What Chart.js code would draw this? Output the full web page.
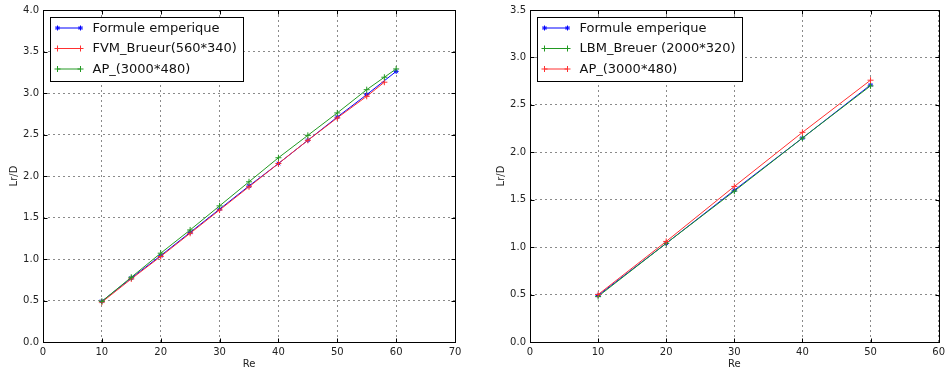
<!DOCTYPE html>
<html>
<head>
<meta charset="utf-8">
<script src="https://cdn.jsdelivr.net/npm/chart.js@4/dist/chart.umd.min.js"></script>
<style>
  html, body { margin: 0; padding: 0; background: #fff; }
  body { width: 949px; height: 372px; position: relative; overflow: hidden; }
  .wrap { position: absolute; top: 0; height: 372px; }
  #w1 { left: 0; width: 470px; }
  #w2 { left: 487px; width: 462px; }
</style>
</head>
<body>
<div class="wrap" id="w1"><canvas id="c1"></canvas></div>
<div class="wrap" id="w2"><canvas id="c2"></canvas></div>
<script>
// ---------- Data (left chart) ----------
const reFormuleLeft = [10, 15, 20, 25, 30, 35, 40, 45, 50, 55, 60];
const lrFormuleLeft = [0.49, 0.77, 1.04, 1.32, 1.60, 1.88, 2.15, 2.43, 2.71, 2.98, 3.26];
const reFVM = [10, 15, 20, 25, 30, 35, 40, 45, 50, 55, 58];
const lrFVM = [0.48, 0.76, 1.03, 1.31, 1.59, 1.87, 2.15, 2.43, 2.70, 2.96, 3.13];
const reAPLeft = [10, 15, 20, 25, 30, 35, 40, 45, 50, 55, 58, 60];
const lrAPLeft = [0.49, 0.78, 1.07, 1.35, 1.64, 1.93, 2.22, 2.49, 2.76, 3.04, 3.19, 3.29];

// ---------- Data (right chart) ----------
const reRight = [10, 20, 30, 40, 50];
const lrFormuleRight = [0.49, 1.04, 1.60, 2.15, 2.71];
const lrLBM = [0.48, 1.04, 1.59, 2.15, 2.70];
const lrAPRight = [0.50, 1.06, 1.64, 2.21, 2.76];

// ---------- Labels ----------
const labelsLeft = ['Formule emperique', 'FVM_Brueur(560*340)', 'AP_(3000*480)'];
const labelsRight = ['Formule emperique', 'LBM_Breuer (2000*320)', 'AP_(3000*480)'];
const xTitle = 'Re';
const yTitle = 'Lr/D';

const BLUE = '#0000ff', RED = '#ff3030', GREEN = '#229922';
const FONT = '"DejaVu Sans", "Liberation Sans", sans-serif';

function pts(xs, ys) { return xs.map((x, i) => ({ x: x, y: ys[i] })); }

function drawMarker(ctx, style, color, x, y, r) {
  ctx.save();
  ctx.strokeStyle = color; ctx.fillStyle = color; ctx.lineWidth = 1;
  ctx.beginPath();
  if (style === 'star') {
    for (let k = 0; k < 4; k++) {
      const a = k * Math.PI / 4;
      ctx.moveTo(x - r * Math.cos(a), y - r * Math.sin(a));
      ctx.lineTo(x + r * Math.cos(a), y + r * Math.sin(a));
    }
  } else {
    ctx.moveTo(x - r, y); ctx.lineTo(x + r, y);
    ctx.moveTo(x, y - r); ctx.lineTo(x, y + r);
  }
  ctx.stroke();
  ctx.restore();
}

const framePlugin = {
  id: 'frame',
  afterDatasetsDraw(chart) {
    const ctx = chart.ctx, a = chart.chartArea;
    ctx.save();
    ctx.strokeStyle = '#000'; ctx.lineWidth = 1;
    const L = Math.round(a.left) + 0.5, R = Math.round(a.right) + 0.5;
    const T = Math.round(a.top) + 0.5, B = Math.round(a.bottom) + 0.5;
    ctx.beginPath();
    const xs = chart.scales.x, ys = chart.scales.y;
    xs.ticks.forEach(t => {
      const px = Math.round(xs.getPixelForValue(t.value)) + 0.5;
      ctx.moveTo(px, B); ctx.lineTo(px, B - 4);
      ctx.moveTo(px, T); ctx.lineTo(px, T + 4);
    });
    ys.ticks.forEach(t => {
      const py = Math.round(ys.getPixelForValue(t.value)) + 0.5;
      ctx.moveTo(L, py); ctx.lineTo(L + 4, py);
      ctx.moveTo(R, py); ctx.lineTo(R - 4, py);
    });
    ctx.stroke();
    ctx.strokeRect(L, T, R - L, B - T);
    ctx.restore();
  }
};

const legendPlugin = {
  id: 'boxLegend',
  afterDraw(chart) {
    const ctx = chart.ctx, a = chart.chartArea;
    const ds = chart.data.datasets;
    ctx.save();
    ctx.font = '13px ' + FONT;
    let maxW = 0;
    ds.forEach(d => { maxW = Math.max(maxW, ctx.measureText(d.label).width); });
    const bx = Math.round(a.left) + 7.5, by = Math.round(a.top) + 7.5;
    const textX = 42, bw = textX + maxW + 7, bh = 64;
    const rows = [10.5, 31, 51.5];
    ctx.fillStyle = '#fff';
    ctx.fillRect(bx, by, bw, bh);
    ctx.strokeStyle = '#000'; ctx.lineWidth = 1;
    ctx.strokeRect(bx, by, Math.round(bw), bh);
    ds.forEach((d, i) => {
      const y = by + rows[i];
      const x0 = bx + 7, x1 = bx + 30;
      ctx.strokeStyle = d.borderColor; ctx.lineWidth = 1;
      ctx.beginPath(); ctx.moveTo(x0, y); ctx.lineTo(x1, y); ctx.stroke();
      drawMarker(ctx, d.pointStyle, d.borderColor, x0, y, d.pointStyle === 'star' ? 2.5 : 3);
      drawMarker(ctx, d.pointStyle, d.borderColor, x1, y, d.pointStyle === 'star' ? 2.5 : 3);
      ctx.fillStyle = '#111';
      ctx.textBaseline = 'middle'; ctx.textAlign = 'left';
      ctx.fillText(d.label, bx + textX, y + 0.5);
    });
    ctx.restore();
  }
};

function makeDataset(label, data, color, style, order) {
  return {
    label: label, data: data,
    borderColor: color, backgroundColor: color,
    borderWidth: 1,
    pointStyle: style,
    pointRadius: style === 'star' ? 2.5 : 3,
    pointBorderWidth: 1,
    pointHoverRadius: 3,
    pointBorderColor: color,
    pointBackgroundColor: color,
    showLine: true, fill: false, tension: 0,
    order: order
  };
}

function makeOptions(xMax, yMax, padRight) {
  return {
    responsive: false,
    animation: false,
    events: [],
    layout: { padding: { top: 8, right: padRight, bottom: 0, left: 0 } },
    plugins: { legend: { display: false }, tooltip: { enabled: false } },
    scales: {
      x: {
        type: 'linear', min: 0, max: xMax,
        ticks: { stepSize: 10, color: '#222', font: { family: FONT, size: 10 }, padding: 4, maxRotation: 0 },
        grid: { color: '#8a8a8a', lineWidth: 1, drawTicks: false },
        border: { display: false, dash: [2, 3] },
        title: { display: true, text: xTitle, color: '#222', font: { family: FONT, size: 10 }, padding: { top: 0, bottom: 2 } },
        afterFit(s) { s.height = 30; }
      },
      y: {
        type: 'linear', min: 0, max: yMax,
        ticks: { stepSize: 0.5, color: '#222', font: { family: FONT, size: 10 }, padding: 4,
                 callback: v => Number(v).toFixed(1) },
        grid: { color: '#8a8a8a', lineWidth: 1, drawTicks: false },
        border: { display: false, dash: [2, 3] },
        title: { display: true, text: yTitle, color: '#222', font: { family: FONT, size: 10 }, padding: { top: 8, bottom: 0 } },
        afterFit(s) { s.width = 43; }
      }
    }
  };
}

function setup(id, w) {
  const c = document.getElementById(id);
  c.width = w; c.height = 372;
  c.style.width = w + 'px'; c.style.height = '372px';
  return c;
}

new Chart(setup('c1', 470), {
  type: 'scatter',
  data: {
    datasets: [
      makeDataset(labelsLeft[0], pts(reFormuleLeft, lrFormuleLeft), BLUE, 'star', 3),
      makeDataset(labelsLeft[1], pts(reFVM, lrFVM), RED, 'cross', 2),
      makeDataset(labelsLeft[2], pts(reAPLeft, lrAPLeft), GREEN, 'cross', 1)
    ]
  },
  options: makeOptions(70, 4, 15),
  plugins: [framePlugin, legendPlugin]
});

new Chart(setup('c2', 462), {
  type: 'scatter',
  data: {
    datasets: [
      makeDataset(labelsRight[0], pts(reRight, lrFormuleRight), BLUE, 'star', 3),
      makeDataset(labelsRight[1], pts(reRight, lrLBM), GREEN, 'cross', 2),
      makeDataset(labelsRight[2], pts(reRight, lrAPRight), RED, 'cross', 1)
    ]
  },
  options: makeOptions(60, 3.5, 7),
  plugins: [framePlugin, legendPlugin]
});
</script>
</body>
</html>
